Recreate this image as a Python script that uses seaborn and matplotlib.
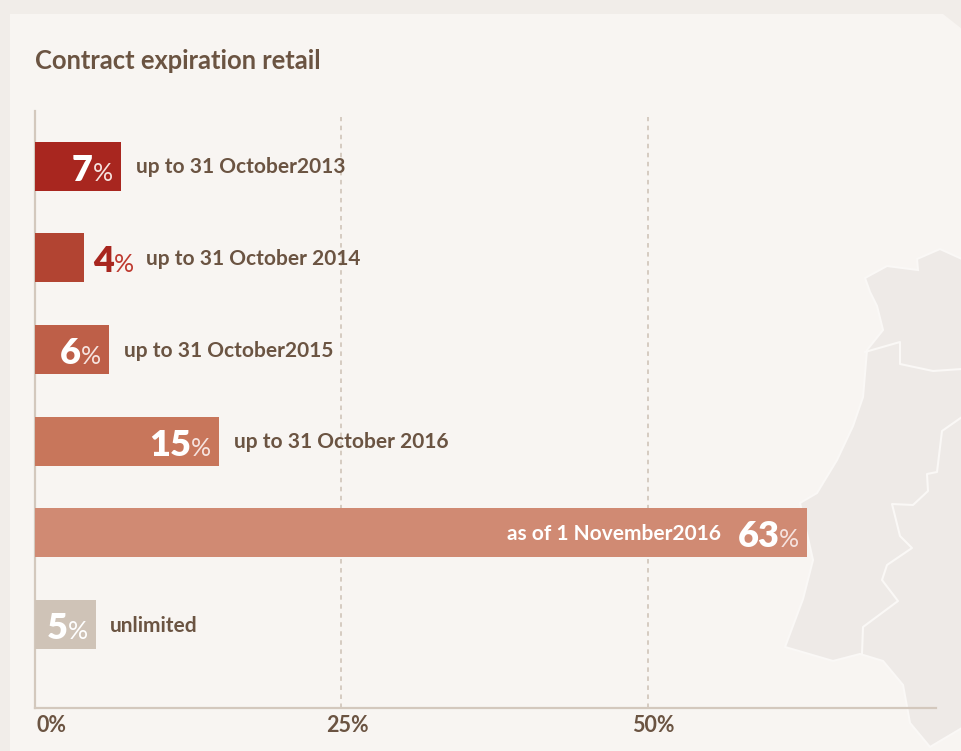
import matplotlib
matplotlib.use("Agg")
import matplotlib.pyplot as plt
from matplotlib.patches import Polygon
from matplotlib.transforms import ScaledTranslation
import pandas as pd
import seaborn as sns

## Chart data
categories = ["up to 31 October2013", "up to 31 October 2014", "up to 31 October2015",
              "up to 31 October 2016", "as of 1 November2016", "unlimited"]
shares = [7, 4, 6, 15, 63, 5]
tick_values = [0, 25, 50]
tick_labels = ["0%", "25%", "50%"]

bar_colours = ["#A8261F", "#B24432", "#BE5F48", "#C8765B", "#D08A73", "#CFC3B7"]

## Decoration: map silhouette and borders behind the chart, in image pixels
map_outline = [(962, 259), (940, 249), (917, 259), (918, 270), (887, 266), (865, 278), (870, 292),
               (877, 306), (883, 330), (867, 350), (863, 397), (853, 426), (837, 460), (817, 493),
               (800, 503), (813, 560), (803, 599), (785, 647), (833, 661), (860, 654), (883, 661),
               (903, 685), (910, 723), (930, 747), (962, 728)]
border_north = [(865, 352), (900, 342), (900, 364), (933, 371), (962, 369)]
border_east = [(962, 417), (942, 431), (937, 472), (927, 474), (928, 491), (913, 505), (892, 504),
               (900, 536), (912, 548), (887, 565), (882, 580), (898, 601), (863, 627), (862, 654)]

W, H = 962, 751
BROWN = "#6B5442"
LINE = "#D3C8BD"


def px(points):
    # image pixels to figure fractions
    return [(x / W, 1 - y / H) for x, y in points]


sns.set_theme(style="white")
plt.rcParams["font.family"] = ["Lato", "DejaVu Sans"]

fig = plt.figure(figsize=(W / 100, H / 100), dpi=100, facecolor="#F1EDE9")

# Panel with the clipped top right corner
fig.add_artist(Polygon(px([(10, 14), (943, 14), (962, 29), (962, 751), (10, 751)]),
                       transform=fig.transFigure, fc="#F8F5F2", ec="none", zorder=-3))
fig.add_artist(Polygon(px(map_outline), transform=fig.transFigure, fc="#EEEAE7", ec="#FAF8F6", lw=1.5, zorder=-2))
for border in (border_north, border_east):
    xs, ys = zip(*px(border))
    fig.add_artist(plt.Line2D(xs, ys, transform=fig.transFigure, color="#FAF8F6", lw=1.5, zorder=-1))

ax = fig.add_axes([35 / W, 1 - 708 / H, (936 - 35) / W, (708 - 111) / H])
ax.patch.set_alpha(0)

df = pd.DataFrame({"label": categories, "share": shares})
sns.barplot(data=df, x="share", y="label", hue="label", palette=bar_colours,
            dodge=False, legend=False, width=0.534, saturation=1, edgecolor="none", linewidth=0, ax=ax)

ax.set_xlim(0, 73.5)
ax.set_ylim(5.91, -0.6)
ax.set_xlabel("")
ax.set_ylabel("")
ax.set_yticks([])

for val in tick_values[1:]:
    ax.plot([val, val], [5.91, -0.535], color=LINE, lw=1.3, ls=(0, (2.5, 2.5)), zorder=0.5)

sns.despine(ax=ax)
for side in ("left", "bottom"):
    ax.spines[side].set_color(LINE)
    ax.spines[side].set_linewidth(1.6)
    ax.spines[side].set_zorder(0.6)

ax.set_xticks(tick_values)
ax.set_xticklabels(tick_labels, fontsize=15.5, fontweight="bold", color=BROWN)
ax.tick_params(axis="x", length=0, pad=5)
xtick_texts = ax.get_xticklabels()
xtick_texts[0].set_ha("left")
xtick_texts[0].set_transform(xtick_texts[0].get_transform()
                             + ScaledTranslation(1.5 / 100, 0, fig.dpi_scale_trans))
for t in xtick_texts[1:]:
    t.set_transform(t.get_transform() + ScaledTranslation(5.5 / 100, 0, fig.dpi_scale_trans))

# Offsets in pixels from the end of each bar
value_offsets = [-28, 30, -28, -28, -28, -28]
label_offsets = [15, 62, 15, 15, -86, 14]
value_colours = ["white", "#A8261F", "white", "white", "white", "white"]
pct_colours = ["#F6E3DF", "#BE3A30", "#F6E3DF", "#F6E3DF", "#F6E3DF", "#FFFFFF"]
label_colours = [BROWN, BROWN, BROWN, BROWN, "white", BROWN]

for i, val in enumerate(shares):
    ax.annotate(str(val), (val, i), xytext=(value_offsets[i] * 0.72, -10.5), textcoords="offset points",
                ha="right", va="baseline", fontsize=26, fontweight="heavy", color=value_colours[i])
    ax.annotate("%", (val, i), xytext=(value_offsets[i] * 0.72, -10.5), textcoords="offset points",
                ha="left", va="baseline", fontsize=18, fontweight="normal", color=pct_colours[i])
    ax.annotate(categories[i], (val, i), xytext=(label_offsets[i] * 0.72, -5.2), textcoords="offset points",
                ha="right" if label_offsets[i] < 0 else "left", va="baseline",
                fontsize=15, fontweight="bold", color=label_colours[i])

fig.text(35 / W, 1 - 69 / H, "Contract expiration retail", fontsize=18.4, fontweight="bold",
         color=BROWN, ha="left", va="baseline")

fig.savefig("out.png", dpi=100, facecolor=fig.get_facecolor())
